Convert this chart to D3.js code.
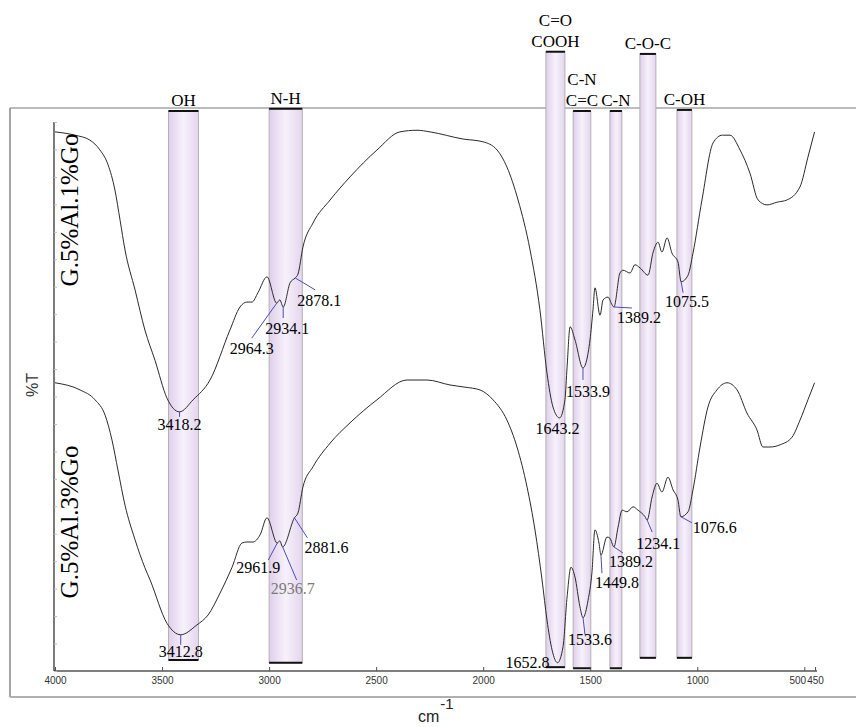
<!DOCTYPE html>
<html>
<head>
<meta charset="utf-8">
<script src="https://d3js.org/d3.v7.min.js"></script>
<style>
  body { margin: 0; background: #fff; }
  svg { display: block; }
  .serif { font-family: "Liberation Serif", "Times New Roman", serif; fill: #000; }
  .tick-label { font-family: "Liberation Sans", Arial, sans-serif; font-size: 10px; fill: #333; }
</style>
</head>
<body>
<svg id="chart" width="856" height="727"></svg>
<script>
// spectra (wavenumber cm-1, stacked %T as drawn)
const spectrumNames = ['G.5%Al.1%Go', 'G.5%Al.3%Go'];

const waveA = [4000,3907,3837,3790,3752,3720,3696,3673,3626,3580,3533,3477,3418.2,3355,3276,3183,3136,3103,3080,3052,3010,2964.3,2950,2934.1,2902,2878.1,2865,2842,2795,2715,2622,2496,2389,2309,2248,2094,2001,1935,1889,1837,1781,1735,1702,1674,1643.2,1618,1608,1594,1571,1533.9,1501,1487,1478,1454,1440,1417,1398,1389.2,1361,1347,1314,1291,1267,1230,1206,1183,1165,1141,1118,1090,1075.5,1043,1020,978,926,883,847,800,754,716,674,627,581,520,483,452];
const transA = [98.2,97.6,96.7,94.9,92.2,87.6,82.1,76.7,69.4,62.1,56.6,49.7,47.2,49.4,53.0,62.1,66.3,67.2,67.2,68.9,71.8,67.0,67.6,66.3,70.7,71.6,72.3,77.2,81.6,85.8,90.0,94.9,98.2,98.5,98.2,96.9,96.4,94.9,91.8,85.8,76.7,65.8,54.3,48.1,46.1,49.4,55.4,62.7,60.3,55.2,60.3,65.8,69.8,64.8,67.6,68.1,66.7,66.3,72.5,73.0,72.5,74.0,73.4,72.1,76.3,78.1,76.3,78.9,76.1,74.5,70.9,72.1,76.1,85.8,96.2,97.6,97.6,94.9,90.7,85.8,84.9,85.4,85.8,88.2,93.6,98.2];

const waveB = [4000,3883,3813,3766,3734,3706,3673,3626,3580,3556,3477,3412.8,3337,3285,3229,3173,3127,3103,3075,3042,3010,2961.9,2950,2936.7,2881.6,2865,2842,2795,2715,2622,2496,2356,2262,2155,2085,2015,1954,1889,1842,1795,1758,1725,1702,1678,1652.8,1627,1608,1590,1571,1548,1533.6,1510,1492,1478,1459,1449.8,1422,1408,1389.2,1370,1351,1328,1300,1277,1244,1234.1,1211,1188,1165,1137,1113,1090,1076.6,1043,1020,987,950,908,861,814,768,721,693,660,613,557,520,483,452];
const transB = [52.5,51.2,49.4,46.6,42.1,36.6,30.2,23.9,18.8,16.6,8.7,6.6,8.4,10.2,14.2,18.9,23.3,23.5,23.5,24.8,27.9,23.3,23.7,22.6,27.9,28.8,33.5,37.2,41.5,45.2,49.4,53.0,53.0,52.1,51.7,51.2,49.4,45.7,40.8,33.5,25.7,16.6,9.3,3.8,1.5,4.4,13.5,18.9,17.1,11.7,9.7,12.9,17.9,25.7,23.3,21.1,24.4,24.2,22.6,26.2,29.3,29.0,29.9,29.3,28.1,27.5,31.7,34.2,32.6,35.3,33.0,31.1,28.1,29.0,33.0,40.8,48.1,51.2,52.5,51.2,47.0,43.9,40.8,40.8,41.2,42.6,45.7,49.4,52.5];

// picked peaks
const peaksA = [3418.2, 2964.3, 2934.1, 2878.1, 1643.2, 1533.9, 1389.2, 1075.5];
const peaksB = [3412.8, 2961.9, 2936.7, 2881.6, 1652.8, 1533.6, 1449.8, 1389.2, 1234.1, 1076.6];

// assignment bands
const bandNames = [['OH'], ['N-H'], ['C=O', 'COOH'], ['C-N', 'C=C'], ['C-N'], ['C-O-C'], ['C-OH']];
const bandHigh = [3470, 3000, 1707, 1580, 1408, 1268, 1095];
const bandLow = [3330, 2845, 1618, 1497, 1352, 1193, 1025];
const bandTop = [102.0, 102.4, 112.8, 102.0, 102.0, 112.4, 102.2];
const bandBottom = [2.0, 1.5, 0.7, 0.5, 0.5, 2.4, 2.4];

const xTicks = [4000, 3500, 3000, 2500, 2000, 1500, 1000, 500, 450];

// label placement (px offsets from the peak: text dx, dy, leader end dx, dy)
const labelPosA = [[0,13,0,5],[-25,45,-25,35],[4,21,0,11],[24,22,20,12],[-2,10,0,0],[5,23,0,12],[25,10,18,1],[6,20,2,11]];
const labelPosB = [[0,17,0,10],[-19,24,-9,17],[10,41,14,33],[32,30,13,20],[-30,0,0,0],[7,22,2,17],[16,27,1,18],[17,14,9,6],[11,23,5,12],[34,11,11,6]];

const W = 856, H = 727;
const svg = d3.select('#chart');

const x = d3.scaleLinear().domain([4000, 450]).range([55, 815]);
const y = d3.scaleLinear().domain([0, 100]).range([671, 122]);

// gradient for the bands
const defs = svg.append('defs');
const grad = defs.append('linearGradient').attr('id', 'bandFill')
  .attr('x1', '0%').attr('x2', '100%').attr('y1', '0%').attr('y2', '0%');
grad.append('stop').attr('offset', '0%').attr('stop-color', '#e0cfeb');
grad.append('stop').attr('offset', '50%').attr('stop-color', '#f7f1fb');
grad.append('stop').attr('offset', '100%').attr('stop-color', '#e4d5ee');

// frame
svg.append('line').attr('x1', 10).attr('x2', W).attr('y1', 108).attr('y2', 108)
  .attr('stroke', '#7a7a7a').attr('stroke-width', 1.2);
svg.append('line').attr('x1', 10).attr('x2', 10).attr('y1', 108).attr('y2', 697)
  .attr('stroke', '#6a6a6a').attr('stroke-width', 1.2);
svg.append('line').attr('x1', 10).attr('x2', W).attr('y1', 697).attr('y2', 697)
  .attr('stroke', '#b0b0b0').attr('stroke-width', 2);

// bands
const bands = bandNames.map((n, i) => ({
  name: n, hi: bandHigh[i], lo: bandLow[i], top: bandTop[i], bottom: bandBottom[i]
}));

const gBand = svg.append('g').attr('class', 'bands');
const band = gBand.selectAll('g.band').data(bands).enter().append('g').attr('class', 'band');

band.append('rect')
  .attr('x', d => x(d.hi))
  .attr('width', d => x(d.lo) - x(d.hi))
  .attr('y', d => y(d.top))
  .attr('height', d => y(d.bottom) - y(d.top))
  .attr('fill', 'url(#bandFill)')
  .attr('stroke', '#a5a5a5')
  .attr('stroke-width', 0.8);

band.append('line')
  .attr('x1', d => x(d.hi)).attr('x2', d => x(d.lo))
  .attr('y1', d => y(d.top)).attr('y2', d => y(d.top))
  .attr('stroke', '#111').attr('stroke-width', 2);
band.append('line')
  .attr('x1', d => x(d.hi)).attr('x2', d => x(d.lo))
  .attr('y1', d => y(d.bottom)).attr('y2', d => y(d.bottom))
  .attr('stroke', '#111').attr('stroke-width', 2);

band.each(function (d) {
  const cx = (x(d.hi) + x(d.lo)) / 2;
  const base = y(d.top) - 5;
  const n = d.name.length;
  d.name.forEach((t, k) => {
    d3.select(this).append('text')
      .attr('class', 'serif')
      .attr('x', cx)
      .attr('y', base - (n - 1 - k) * 21)
      .attr('text-anchor', 'middle')
      .attr('font-size', 17)
      .text(t);
  });
});

// axes
const axisX = d3.axisBottom(x).tickValues(xTicks).tickSize(-4).tickPadding(6)
  .tickFormat(d3.format('d'));
const gx = svg.append('g').attr('transform', 'translate(0,671)').call(axisX);
gx.select('.domain').attr('stroke', '#555').attr('stroke-width', 1.5).attr('d', `M${x(4000) - 1},0H${x(450) + 2}`);
gx.selectAll('.tick line').attr('stroke', '#555');
gx.selectAll('.tick text').attr('class', 'tick-label').attr('font-size', null).attr('fill', null)
  .attr('dx', d => d === 500 ? -7 : 0);

const axisY = d3.axisRight(y).ticks(16).tickSize(3).tickFormat('');
const gy = svg.append('g').attr('transform', 'translate(54,0)').call(axisY);
gy.select('.domain').attr('stroke', '#222').attr('stroke-width', 1.2).attr('d', 'M0,122V671');
gy.selectAll('.tick line').attr('stroke', '#bbb');

svg.append('text')
  .attr('transform', 'translate(38,385) rotate(-90)')
  .attr('text-anchor', 'middle')
  .attr('font-family', '"Liberation Sans", Arial, sans-serif')
  .attr('font-size', 16)
  .attr('fill', '#333')
  .text('%T');

const unit = svg.append('text')
  .attr('x', 418).attr('y', 722)
  .attr('font-family', '"Liberation Sans", Arial, sans-serif')
  .attr('font-size', 16)
  .attr('fill', '#222');
unit.append('tspan').text('cm');
unit.append('tspan').attr('dy', -13).attr('dx', 1).attr('font-size', 15).text('-1');

// spectra
const line = d3.line().x(d => x(d[0])).y(d => y(d[1])).curve(d3.curveMonotoneX);
const series = [
  { name: spectrumNames[0], data: d3.zip(waveA, transA), peaks: peaksA, pos: labelPosA, labelY: 210 },
  { name: spectrumNames[1], data: d3.zip(waveB, transB), peaks: peaksB, pos: labelPosB, labelY: 522 }
];

const gVis = svg.append('g').attr('class', 'spectra');
gVis.selectAll('path.spec').data(series).enter().append('path')
  .attr('class', 'spec')
  .attr('d', d => line(d.data))
  .attr('fill', 'none')
  .attr('stroke', '#2a2a2a')
  .attr('stroke-width', 1);

gVis.selectAll('text.series').data(series).enter().append('text')
  .attr('class', 'serif series')
  .attr('transform', d => `translate(78,${d.labelY}) rotate(-90)`)
  .attr('text-anchor', 'middle')
  .attr('font-size', 25)
  .text(d => d.name);

// peak labels
series.forEach(s => {
  const lookup = new Map(s.data);
  s.peaks.forEach((p, i) => {
    const px = x(p), py = y(lookup.get(p));
    const o = s.pos[i];
    if (o[2] !== 0 || o[3] !== 0) {
      gVis.append('line')
        .attr('x1', px).attr('y1', py)
        .attr('x2', px + o[2]).attr('y2', py + o[3])
        .attr('stroke', '#4b4bb5').attr('stroke-width', 1);
    }
    gVis.append('text')
      .attr('class', 'serif')
      .attr('x', px + o[0]).attr('y', py + o[1])
      .attr('dy', '0.35em')
      .attr('text-anchor', 'middle')
      .attr('font-size', 16)
      .style('fill', p === 2936.7 ? '#7a7a7a' : '#000')
      .text(d3.format('.1f')(p));
  });
});
</script>
</body>
</html>
